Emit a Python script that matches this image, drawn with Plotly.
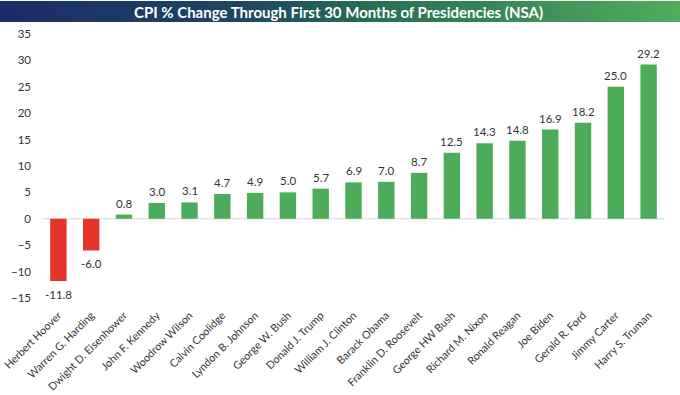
import plotly.graph_objects as go

presidents = ["Herbert Hoover", "Warren G. Harding", "Dwight D. Eisenhower", "John F. Kennedy",
              "Woodrow Wilson", "Calvin Coolidge", "Lyndon B. Johnson", "George W. Bush",
              "Donald J. Trump", "William J. Clinton", "Barack Obama", "Franklin D. Roosevelt",
              "George HW Bush", "Richard M. Nixon", "Ronald Reagan", "Joe Biden",
              "Gerald R. Ford", "Jimmy Carter", "Harry S. Truman"]
cpi_change = [-11.8, -6.0, 0.8, 3.0, 3.1, 4.7, 4.9, 5.0, 5.7, 6.9, 7.0, 8.7,
              12.5, 14.3, 14.8, 16.9, 18.2, 25.0, 29.2]
y_ticks = [-15, -10, -5, 0, 5, 10, 15, 20, 25, 30, 35]

RED = "#e5342a"
GREEN = "#4dac5a"
colors = [RED if v < 0 else GREEN for v in cpi_change]

FONT = "Lato, Open Sans, sans-serif"

fig = go.Figure(go.Bar(
    x=presidents, y=cpi_change,
    marker=dict(color=colors, line=dict(width=0)),
    width=0.5,
    hoverinfo="x+y",
))

L, R, T, B = 42, 15, 34, 97
W, H = 680, 395
pw, ph = W - L - R, H - T - B

def px2x(px):
    return (px - L) / pw

def py2y(py):
    return 1 - (py - T) / ph

# gradient title bar
stops = [(0.0, (27, 44, 104)), (0.35, (30, 70, 100)), (0.55, (40, 110, 85)), (1.0, (80, 172, 92))]

def interp(t):
    for i in range(len(stops) - 1):
        a, ca = stops[i]
        b, cb = stops[i + 1]
        if a <= t <= b:
            f = (t - a) / (b - a)
            return tuple(int(round(ca[k] + (cb[k] - ca[k]) * f)) for k in range(3))
    return stops[-1][1]

shapes = []
n = 136
for i in range(n):
    x0p = i * W / n
    x1p = (i + 1) * W / n + 0.6
    c = interp(i / (n - 1))
    shapes.append(dict(type="rect", xref="paper", yref="paper",
                       x0=px2x(x0p), x1=px2x(x1p), y0=py2y(22), y1=py2y(1),
                       fillcolor=f"rgb{c}", line=dict(width=0), layer="below"))

# zero line
shapes.append(dict(type="line", xref="paper", yref="y", x0=0, x1=1, y0=0, y1=0,
                   line=dict(color="#d9d9d9", width=1), layer="below"))

annotations = [dict(text="<b>CPI % Change Through First 30 Months of Presidencies (NSA)</b>",
                    xref="paper", yref="paper", x=px2x(338), y=py2y(11.5),
                    xanchor="center", yanchor="middle", showarrow=False,
                    font=dict(family=FONT, size=15, color="white"))]

# value labels
for name, v in zip(presidents, cpi_change):
    annotations.append(dict(
        x=name, y=v, xref="x", yref="y", text=f"{v:.1f}", showarrow=False,
        xanchor="center", yanchor="bottom" if v >= 0 else "top",
        yshift=3 if v >= 0 else -5,
        font=dict(family=FONT, size=11.5, color="#333333")))

fig.update_layout(
    width=W, height=H,
    margin=dict(l=L, r=R, t=T, b=B, autoexpand=False),
    paper_bgcolor="white", plot_bgcolor="white",
    shapes=shapes,
    annotations=annotations,
    showlegend=False,
    bargap=0.5,
    xaxis=dict(tickangle=-45, showgrid=False, showline=False, zeroline=False, ticks="",
               automargin=False, ticklabelstandoff=8,
               tickfont=dict(family=FONT, size=10.8, color="#333333")),
    yaxis=dict(range=[-15, 35], tickvals=y_ticks, showgrid=False, zeroline=False,
               showline=False, ticks="", automargin=False, ticklabelstandoff=10,
               tickfont=dict(family=FONT, size=11.5, color="#333333")),
)

fig.write_html("out.html", config={"displayModeBar": False},
               post_script="document.body.style.margin='0';document.body.style.overflow='hidden';")
